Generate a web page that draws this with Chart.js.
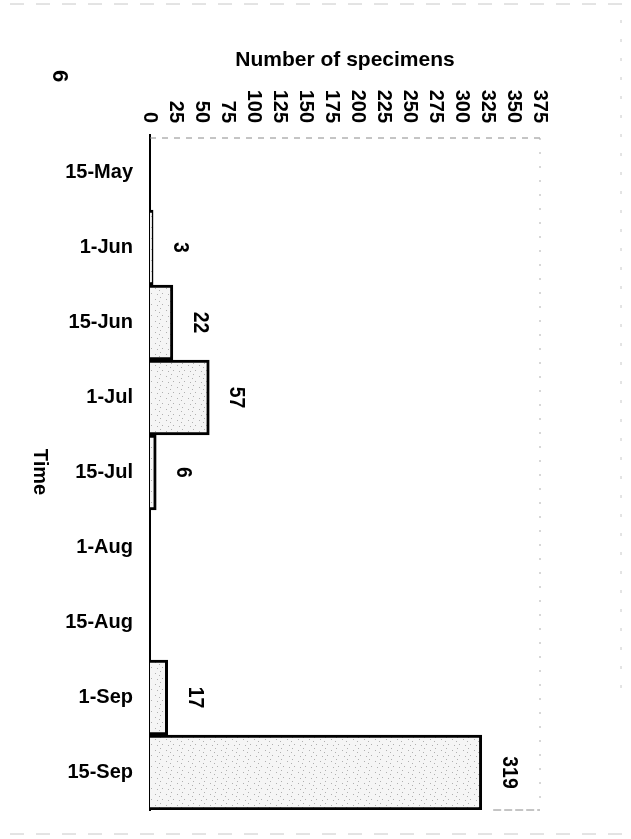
<!DOCTYPE html>
<html>
<head>
<meta charset="utf-8">
<script src="https://cdn.jsdelivr.net/npm/chart.js@4"></script>
<style>
    html, body { margin: 0; padding: 0; background: #fff; }
    #wrap { width: 631px; height: 839px; }
</style>
</head>
<body>
<div id="wrap"><canvas id="specimenChart" width="631" height="839"></canvas></div>
<script>
const timeLabels = ["15-May", "1-Jun", "15-Jun", "1-Jul", "15-Jul", "1-Aug", "15-Aug", "1-Sep", "15-Sep"];
const specimenCounts = [0, 3, 22, 57, 6, 0, 0, 17, 319];
const countTicks = [0, 25, 50, 75, 100, 125, 150, 175, 200, 225, 250, 275, 300, 325, 350, 375];

const FONT = "'Liberation Sans', Arial, sans-serif";

// stippled grey fill like the scanned bars
function makeStipple() {
    const c = document.createElement("canvas");
    c.width = 11; c.height = 11;
    const g = c.getContext("2d");
    g.fillStyle = "#f5f5f5";
    g.fillRect(0, 0, 11, 11);
    g.fillStyle = "#b0b0b0";
    [[1, 2], [6, 0], [8, 7], [3, 8], [5, 4]].forEach(p => g.fillRect(p[0], p[1], 1, 1));
    return g.createPattern(c, "repeat");
}

// text turned a quarter clockwise, reads top to bottom
function rotatedText(ctx, text, x, y, align, squeeze) {
    ctx.save();
    ctx.translate(x, y);
    ctx.rotate(Math.PI / 2);
    if (squeeze) ctx.scale(squeeze, 1);
    ctx.textAlign = align;
    ctx.textBaseline = "middle";
    ctx.fillText(text, 0, 0);
    ctx.restore();
}

const decorations = {
    id: "decorations",
    afterDraw(chart) {
        const ctx = chart.ctx;
        const area = chart.chartArea;
        const xs = chart.scales.x;
        const ys = chart.scales.y;

        ctx.save();
        // faint frame on top / right / bottom
        ctx.strokeStyle = "#8a8a8a";
        ctx.lineWidth = 1;
        ctx.setLineDash([6, 6]);
        ctx.beginPath();
        ctx.moveTo(area.left, area.top + 3);
        ctx.lineTo(area.right + 3, area.top + 3);
        ctx.stroke();
        ctx.strokeStyle = "#b0b0b0";
        ctx.setLineDash([2, 12]);
        ctx.beginPath();
        ctx.moveTo(area.right, area.top + 3);
        ctx.lineTo(area.right, area.bottom);
        ctx.stroke();
        ctx.strokeStyle = "#8a8a8a";
        ctx.setLineDash([8, 3]);
        ctx.beginPath();
        ctx.moveTo(xs.getPixelForValue(330), area.bottom);
        ctx.lineTo(area.right, area.bottom);
        ctx.stroke();
        // scan edges of the page
        ctx.strokeStyle = "#c8c8c8";
        ctx.setLineDash([3, 16]);
        ctx.beginPath();
        ctx.moveTo(621, 20);
        ctx.lineTo(621, 700);
        ctx.stroke();
        ctx.setLineDash([14, 12]);
        ctx.beginPath();
        ctx.moveTo(10, 4);
        ctx.lineTo(625, 4);
        ctx.moveTo(10, 834);
        ctx.lineTo(625, 834);
        ctx.stroke();
        ctx.setLineDash([]);

        ctx.fillStyle = "#000";
        // count ticks
        ctx.font = "bold 20px " + FONT;
        countTicks.forEach(v => rotatedText(ctx, String(v), xs.getPixelForValue(v), 123, "right"));

        // bar values
        ctx.font = "bold 22px " + FONT;
        specimenCounts.forEach((v, i) => {
            if (!v) return;
            rotatedText(ctx, String(v), xs.getPixelForValue(v) + 27, ys.getPixelForValue(i), "center", 0.88);
        });

        ctx.font = "bold 21px " + FONT;
        ctx.textAlign = "center";
        ctx.textBaseline = "middle";
        ctx.fillText("Number of specimens", (area.left + area.right) / 2, 60);

        ctx.font = "bold 20px " + FONT;
        rotatedText(ctx, "Time", 40, 472, "center");
        ctx.font = "bold 22px " + FONT;
        rotatedText(ctx, "6", 59, 76, "center");
        ctx.restore();
    }
};

new Chart(document.getElementById("specimenChart"), {
    type: "bar",
    data: {
        labels: timeLabels,
        datasets: [{
            data: specimenCounts,
            backgroundColor: makeStipple(),
            borderColor: "#000",
            borderWidth: 3,
            barPercentage: 1,
            categoryPercentage: 1
        }]
    },
    options: {
        indexAxis: "y",
        responsive: false,
        animation: false,
        layout: { padding: { left: 0, right: 91, top: 135, bottom: 29 } },
        plugins: {
            legend: { display: false },
            tooltip: { enabled: false }
        },
        scales: {
            x: {
                display: false,
                min: 0,
                max: 375
            },
            y: {
                grid: { display: false, drawTicks: false },
                border: { display: true, color: "#000", width: 2 },
                ticks: {
                    color: "#000",
                    padding: 17,
                    font: { family: FONT, size: 20, weight: "bold" }
                },
                afterFit(scale) { scale.width = 150; }
            }
        }
    },
    plugins: [decorations]
});
</script>
</body>
</html>
